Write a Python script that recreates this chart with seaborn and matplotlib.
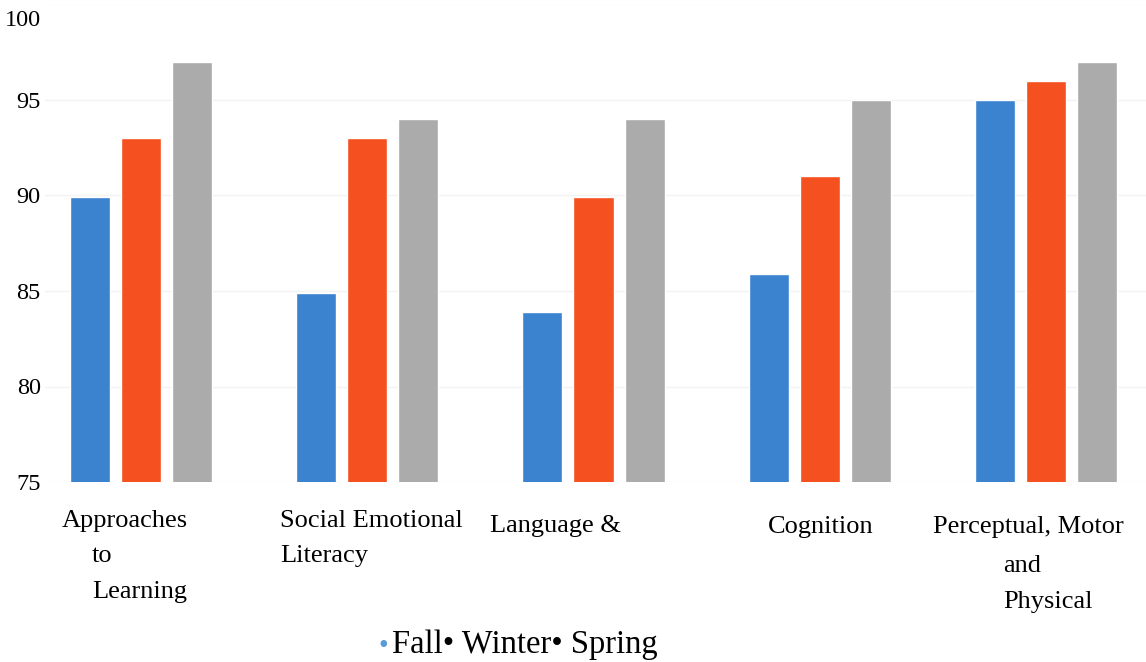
import pandas as pd
import matplotlib
matplotlib.use("Agg")
import matplotlib.pyplot as plt
import matplotlib.transforms as mtransforms
import seaborn as sns

# Дані з графіка
categories = ["Approaches to Learning", "Social Emotional Literacy", "Language &",
              "Cognition", "Perceptual, Motor and Physical"]
seasons = ["Fall", "Winter", "Spring"]
fall = [89.9, 84.9, 83.9, 85.9, 95.0]
winter = [93.0, 93.0, 89.9, 91.0, 96.0]
spring = [97.0, 94.0, 94.0, 95.0, 97.0]
y_ticks = [75, 80, 85, 90, 95, 100]

colors = {"Fall": "#3b82cf", "Winter": "#f5501f", "Spring": "#ababab"}

df = pd.DataFrame({
    "category": categories * 3,
    "season": [s for s in seasons for _ in categories],
    "score": fall + winter + spring,
})

sns.set_theme(style="white")
plt.rcParams["font.family"] = ["Liberation Serif", "DejaVu Serif"]
plt.rcParams["text.color"] = "black"
plt.rcParams["ytick.color"] = "black"

W, H = 1146, 662
fig = plt.figure(figsize=(W / 100, H / 100), dpi=100)
# положення осей у пікселях
left, right, top, bottom = 45, 1146, 4.5, 482
ax = fig.add_axes([left / W, 1 - bottom / H, (right - left) / W, (bottom - top) / H])

sns.barplot(data=df, x="category", y="score", hue="season", palette=colors,
            width=0.677, gap=0.216, ax=ax, legend=False, saturation=1)

ax.set_ylim(75, 100)
unit = 226.25
ax.set_xlim((left - 141) / unit, (right - 141) / unit)
ax.set_yticks(y_ticks)
ax.set_yticklabels([str(t) for t in y_ticks], fontsize=17.5)
ax.tick_params(axis="y", length=0, pad=3)
ax.set_xticks([])
ax.set_xlabel("")
ax.set_ylabel("")
ax.yaxis.grid(True, color="#f3f3f3", linewidth=1)
ax.set_axisbelow(True)
sns.despine(ax=ax, left=True, bottom=True)

# мітку "100" трохи опускаємо, як в оригіналі
lbl = ax.get_yticklabels()[-1]
lbl.set_transform(lbl.get_transform() + mtransforms.ScaledTranslation(0, -0.14, fig.dpi_scale_trans))

# підписи категорій (ліва межа та базова лінія у пікселях)
label_lines = [
    ("Approaches", 62, 527), ("to", 92, 562), ("Learning", 92, 598),
    ("Social Emotional", 280, 527), ("Literacy", 280, 562),
    ("Language &", 490, 532),
    ("Cognition", 768, 533),
    ("Perceptual, Motor", 933, 533), ("and", 1003, 572), ("Physical", 1003, 608),
]
for txt, px, py in label_lines:
    fig.text(px / W, 1 - py / H, txt, ha="left", va="baseline", fontsize=19)

# легенда
fig.text(379 / W, 1 - 653 / H, "•", color="#5a9ad8", ha="left", va="baseline", fontsize=20)
fig.text(392 / W, 1 - 653 / H, "Fall• Winter• Spring", color="black",
         ha="left", va="baseline", fontsize=23.5)

plt.savefig("out.png", dpi=100)
plt.close()
